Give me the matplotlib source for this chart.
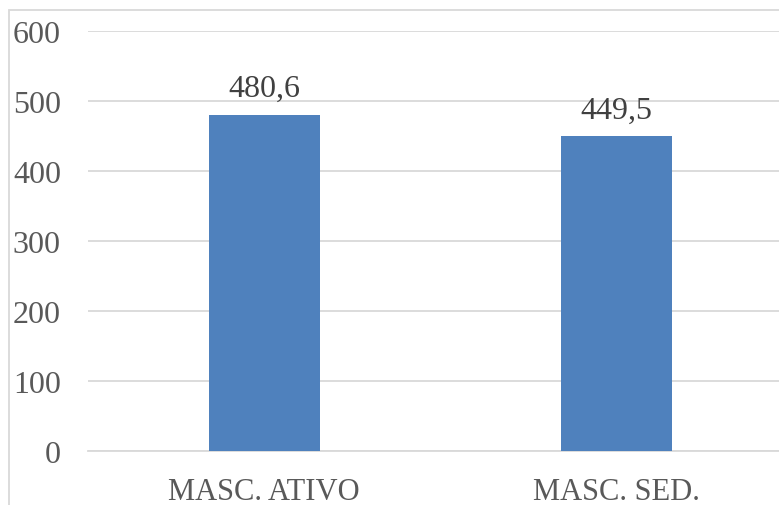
import matplotlib
matplotlib.use("Agg")
import matplotlib.pyplot as plt
from matplotlib.patches import Rectangle

categories = ["MASC. ATIVO", "MASC. SED."]
values = [480.6, 449.5]
value_labels = ["480,6", "449,5"]
yticks = [0, 100, 200, 300, 400, 500, 600]

W, H = 779, 506
fig = plt.figure(figsize=(W / 100, H / 100), dpi=100)
plt.rcParams['font.family'] = ['Liberation Serif', 'DejaVu Serif']

# outer chart border
fig.patches.append(Rectangle((9 / W, -0.1), 2, 1 - 11 / H + 0.1, transform=fig.transFigure,
                             fill=False, edgecolor='#d9d9d9', linewidth=1.3, zorder=0))

ax = fig.add_axes([88 / W, (H - 452) / H, (793 - 88) / W, (452 - 32) / H])
x = range(len(categories))
ax.bar(x, values, width=0.315, color='#4f81bd', zorder=3)
ax.set_xlim(-0.5, len(categories) - 0.5)
ax.set_ylim(0, 600)
ax.set_yticks(yticks)
ax.set_yticklabels([str(t) for t in yticks])
ax.set_xticks(list(x))
ax.set_xticklabels(categories)
ax.yaxis.grid(True, color='#d9d9d9', linewidth=1.3, zorder=0)
for s in ['top', 'right', 'left']:
    ax.spines[s].set_visible(False)
ax.spines['bottom'].set_color('#d9d9d9')
ax.spines['bottom'].set_linewidth(1.3)
ax.tick_params(axis='both', length=0, labelcolor='#595959')
ax.tick_params(axis='y', pad=19.5, labelsize=23)
ax.tick_params(axis='x', pad=18.5, labelsize=22)

for xi, v, lab in zip(x, values, value_labels):
    ax.annotate(lab, (xi, v), xytext=(0, 13.5), textcoords='offset points',
                ha='center', va='baseline', fontsize=23, color='#404040')

fig.savefig('out.png', dpi=100)
